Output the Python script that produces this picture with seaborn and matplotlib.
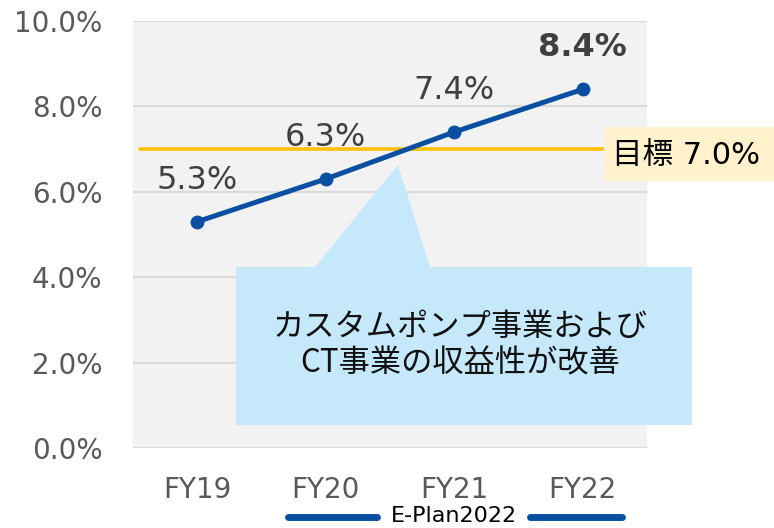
import pandas as pd
import matplotlib.pyplot as plt
import seaborn as sns
from matplotlib.patches import Polygon, Rectangle
from matplotlib.lines import Line2D

# data
years = ["FY19", "FY20", "FY21", "FY22"]
margin = [5.3, 6.3, 7.4, 8.4]
target = 7.0
y_ticks = [0, 2, 4, 6, 8, 10]
callout_text = "カスタムポンプ事業および\nCT事業の収益性が改善"
target_text = "目標 7.0%"
plan_text = "E-Plan2022"

df = pd.DataFrame({"year": years, "margin": margin})

sns.set_theme(style="white")
plt.rcParams["font.family"] = ["DejaVu Sans", "Noto Sans CJK JP"]
jp = ["Noto Sans CJK JP", "DejaVu Sans"]

line_color = "#0b4fa2"
gray_txt = "#595959"

fig = plt.figure(figsize=(7.74, 5.28), dpi=100)
ax = fig.add_axes([0.1718, 0.1515, 0.664, 0.8087])
ax.set_facecolor("#f2f2f2")

ax.set_ylim(0, 10)
ax.set_xlim(-0.5, 3.5)
ax.set_yticks(y_ticks)
ax.set_yticklabels([f"{v:.1f}%" for v in y_ticks])
for v in y_ticks:
    ax.axhline(v, color="#d9d9d9", lw=1.5, zorder=0)

ax.axhline(target, xmin=0.014, xmax=0.915, color="#ffc000", lw=2.6, zorder=2,
           clip_on=False)

sns.lineplot(data=df, x="year", y="margin", ax=ax, color=line_color,
             lw=3.6, marker="o", markersize=10, markeredgewidth=0, zorder=4)

for i, (yr, v) in enumerate(zip(years, margin)):
    last = i == len(years) - 1
    ax.annotate(f"{v:.1f}%", (i, v), xytext=(0, 30), textcoords="offset points",
                ha="center", va="center", fontsize=23, color="#404040",
                fontweight="bold" if last else "normal")

ax.set_xlabel("")
ax.set_ylabel("")
ax.tick_params(axis="y", length=0, pad=22, labelsize=20, labelcolor=gray_txt)
ax.tick_params(axis="x", length=0, pad=20, labelsize=20, labelcolor=gray_txt)
sns.despine(ax=ax, left=True, bottom=True)

# callout box with pointer
W, H = 774, 528
def fp(x, y):
    return (x / W, 1 - y / H)

pts = [fp(236, 425), fp(236, 267), fp(315, 267), fp(398, 165), fp(430, 267),
       fp(692, 267), fp(692, 425)]
fig.add_artist(Polygon(pts, closed=True, transform=fig.transFigure,
                       facecolor="#c5e8fb", edgecolor="none", zorder=3))
fig.text(*fp(460, 345), callout_text, ha="center", va="center", fontsize=22.5,
         family=jp, color="#111111", linespacing=1.2, zorder=5)

# target label
x0, y0 = fp(604, 181)
fig.add_artist(Rectangle((x0, y0), (774 - 604) / W, 54 / H, transform=fig.transFigure,
                         facecolor="#fff2cc", edgecolor="none", zorder=3))
fig.text(*fp(612, 155), target_text, ha="left", va="center", fontsize=22,
         color="black", family=["DejaVu Sans", "Noto Sans CJK JP"], zorder=5)

# plan bracket
for xa, xb in [(288, 377), (530, 622)]:
    fig.add_artist(Line2D([xa / W, xb / W], [1 - 517 / H] * 2, transform=fig.transFigure,
                          color=line_color, lw=5, solid_capstyle="round"))
fig.text(*fp(454, 516), plan_text, ha="center", va="center", fontsize=16, color="black")

fig.savefig("out.png", dpi=100)
